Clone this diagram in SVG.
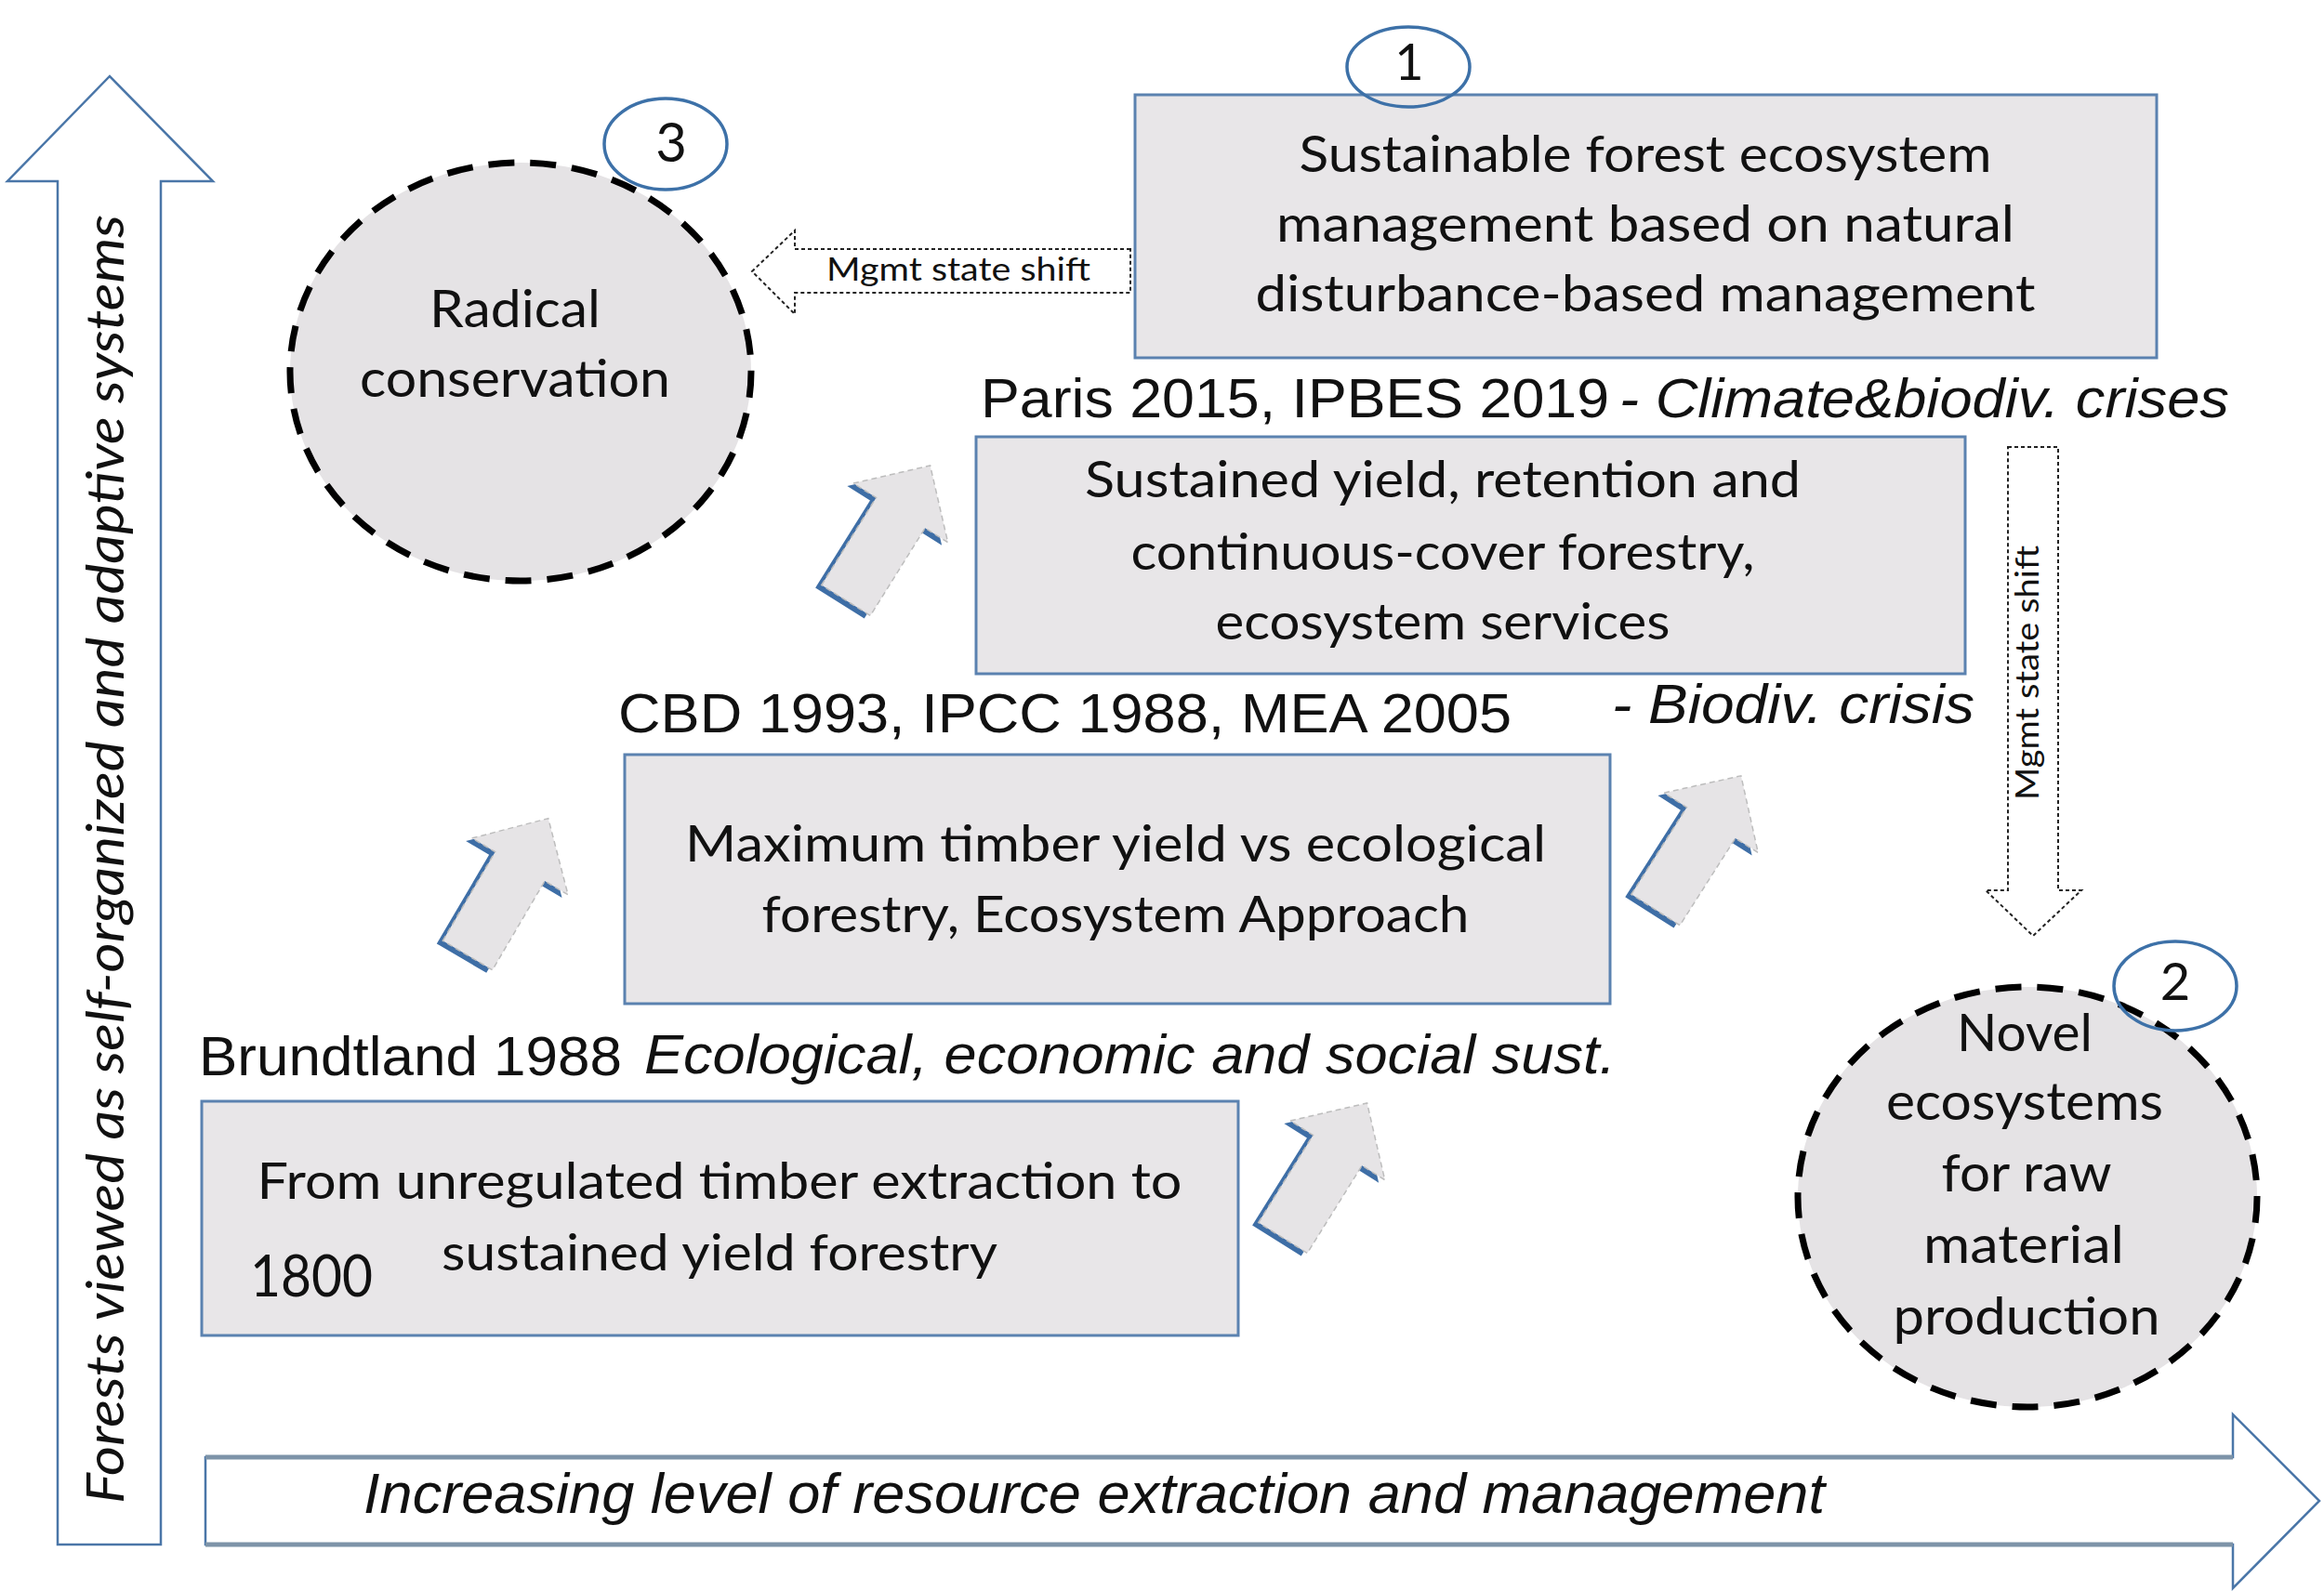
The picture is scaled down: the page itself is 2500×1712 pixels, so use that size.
<svg xmlns="http://www.w3.org/2000/svg" width="2500" height="1712" viewBox="0 0 2500 1712">
<style>
.box{fill:#e8e6e8;stroke:#5b82b0;stroke-width:3}
.circ{fill:#e5e3e5;stroke:#000;stroke-width:7;stroke-dasharray:28 17}
.badge{fill:none;stroke:#3d71a8;stroke-width:3.5}
.cal{font-family:Lato,"Open Sans","DejaVu Sans",sans-serif;fill:#111}
.ari{font-family:"Liberation Sans",Arial,sans-serif;fill:#111}
.it{font-style:italic}
.mid{text-anchor:middle}
.bt{font-size:54px}
.axis{fill:#fff;stroke:#4a76a8;stroke-width:2.5}
.shift{fill:#fff;stroke:#222;stroke-width:2;stroke-dasharray:4 3}
.shadow{fill:#3e6ea6}
.up{fill:#e6e4e6;stroke:#bdbdbd;stroke-width:1.5;stroke-dasharray:6 4}
</style>
<defs>
<path id="uparrow" d="M-31,0 L-31,-111 L-60,-111 L0,-171 L60,-111 L31,-111 L31,0 Z"/>
</defs>
<rect width="2500" height="1712" fill="#fff"/>

<g id="axis-vertical">
<path class="axis" d="M62,1662 L62,195 L8,195 L118,82 L229,195 L173,195 L173,1662 Z"/>
<text class="cal it" font-size="56" transform="translate(133,1618) rotate(-90)" textLength="1387" lengthAdjust="spacingAndGlyphs">Forests viewed as self-organized and adaptive systems</text>
</g>

<g id="axis-horizontal">
<path class="axis" d="M221,1568 L2402,1568 L2402,1522 L2495,1615 L2402,1709 L2402,1662 L221,1662 Z"/>
<line x1="221" y1="1568" x2="2402" y2="1568" stroke="#7d93a8" stroke-width="5"/>
<line x1="221" y1="1662" x2="2402" y2="1662" stroke="#7d93a8" stroke-width="5"/>
<text class="ari it" font-size="62" x="391" y="1628" textLength="1572" lengthAdjust="spacingAndGlyphs">Increasing level of resource extraction and management</text>
</g>

<g id="box-sustainable">
<rect class="box" x="1221" y="102" width="1099" height="283"/>
<text class="cal mid bt" x="1770" y="185" textLength="745" lengthAdjust="spacingAndGlyphs">Sustainable forest ecosystem</text>
<text class="cal mid bt" x="1770" y="260" textLength="794" lengthAdjust="spacingAndGlyphs">management based on natural</text>
<text class="cal mid bt" x="1770" y="335" textLength="839" lengthAdjust="spacingAndGlyphs">disturbance-based management</text>
</g>

<g id="label-paris">
<text class="ari" font-size="60" x="1055" y="449" textLength="676" lengthAdjust="spacingAndGlyphs">Paris 2015, IPBES 2019</text>
<text class="ari it" font-size="60" x="1742" y="449" textLength="656" lengthAdjust="spacingAndGlyphs">- Climate&amp;biodiv. crises</text>
</g>

<g id="box-sustained">
<rect class="box" x="1050" y="470" width="1064" height="255"/>
<text class="cal mid bt" x="1552" y="535" textLength="770" lengthAdjust="spacingAndGlyphs">Sustained yield, retention and</text>
<text class="cal mid bt" x="1552" y="613" textLength="671" lengthAdjust="spacingAndGlyphs">continuous-cover forestry,</text>
<text class="cal mid bt" x="1552" y="688" textLength="489" lengthAdjust="spacingAndGlyphs">ecosystem services</text>
</g>

<g id="label-cbd">
<text class="ari" font-size="60" x="665" y="788" textLength="961" lengthAdjust="spacingAndGlyphs">CBD 1993, IPCC 1988, MEA 2005</text>
<text class="ari it" font-size="60" x="1734" y="778" textLength="390" lengthAdjust="spacingAndGlyphs">- Biodiv. crisis</text>
</g>

<g id="box-maximum">
<rect class="box" x="672" y="812" width="1060" height="268"/>
<text class="cal mid bt" x="1200" y="927" textLength="926" lengthAdjust="spacingAndGlyphs">Maximum timber yield vs ecological</text>
<text class="cal mid bt" x="1200" y="1003" textLength="761" lengthAdjust="spacingAndGlyphs">forestry, Ecosystem Approach</text>
</g>

<g id="label-brundtland">
<text class="ari" font-size="60" x="214" y="1157" textLength="455" lengthAdjust="spacingAndGlyphs">Brundtland 1988</text>
<text class="ari it" font-size="60" x="693" y="1155" textLength="1045" lengthAdjust="spacingAndGlyphs">Ecological, economic and social sust.</text>
</g>

<g id="box-unregulated">
<rect class="box" x="217" y="1185" width="1115" height="252"/>
<text class="cal mid bt" x="774" y="1290" textLength="995" lengthAdjust="spacingAndGlyphs">From unregulated timber extraction to</text>
<text class="cal mid bt" x="774" y="1367" textLength="598" lengthAdjust="spacingAndGlyphs">sustained yield forestry</text>
<text class="cal" font-size="62" x="269" y="1395" textLength="132" lengthAdjust="spacingAndGlyphs">1800</text>
</g>

<g id="circle-radical">
<ellipse class="circ" cx="560" cy="400" rx="248" ry="225"/>
<text class="cal mid" font-size="57" x="554" y="352" textLength="184" lengthAdjust="spacingAndGlyphs">Radical</text>
<text class="cal mid" font-size="57" x="554" y="427" textLength="334" lengthAdjust="spacingAndGlyphs">conservation</text>
</g>

<g id="circle-novel">
<ellipse class="circ" cx="2181" cy="1288" rx="247" ry="226"/>
<text class="cal mid" font-size="57" x="2178" y="1131" textLength="146" lengthAdjust="spacingAndGlyphs">Novel</text>
<text class="cal mid" font-size="57" x="2178" y="1205" textLength="298" lengthAdjust="spacingAndGlyphs">ecosystems</text>
<text class="cal mid" font-size="57" x="2180" y="1282" textLength="183" lengthAdjust="spacingAndGlyphs">for raw</text>
<text class="cal mid" font-size="57" x="2177" y="1359" textLength="216" lengthAdjust="spacingAndGlyphs">material</text>
<text class="cal mid" font-size="57" x="2180" y="1436" textLength="287" lengthAdjust="spacingAndGlyphs">production</text>
</g>

<g id="badge-1">
<ellipse class="badge" cx="1515" cy="72" rx="66" ry="43"/>
<text class="cal mid" font-size="54" x="1516" y="86">1</text>
</g>
<g id="badge-3">
<ellipse class="badge" cx="716" cy="155" rx="66" ry="49"/>
<text class="cal mid" font-size="58" x="722" y="174">3</text>
</g>
<g id="badge-2">
<ellipse class="badge" cx="2340" cy="1061" rx="66" ry="48"/>
<text class="cal mid" font-size="56" x="2340" y="1076">2</text>
</g>

<g id="connectors">
<g transform="translate(503,1028) rotate(30.5)">
<use href="#uparrow" class="shadow" transform="translate(-4,6)"/>
<use href="#uparrow" class="up"/>
</g>
<g transform="translate(1380,1332) rotate(32)">
<use href="#uparrow" class="shadow" transform="translate(-4,6)"/>
<use href="#uparrow" class="up"/>
</g>
<g transform="translate(1781,979) rotate(32.5)">
<use href="#uparrow" class="shadow" transform="translate(-4,6)"/>
<use href="#uparrow" class="up"/>
</g>
<g transform="translate(910,646) rotate(32)">
<use href="#uparrow" class="shadow" transform="translate(-4,6)"/>
<use href="#uparrow" class="up"/>
</g>
<g id="shift-left">
<path class="shift" d="M1216,268 L855,268 L855,248 L809,292 L855,338 L855,315 L1216,315 Z"/>
<text class="cal" font-size="34" x="889" y="302" textLength="284" lengthAdjust="spacingAndGlyphs">Mgmt state shift</text>
</g>
<g id="shift-down">
<path class="shift" d="M2160,481 L2214,481 L2214,958 L2239,958 L2187,1007 L2136,958 L2160,958 Z"/>
<text class="cal" font-size="34" transform="translate(2193,861) rotate(-90)" textLength="274" lengthAdjust="spacingAndGlyphs">Mgmt state shift</text>
</g>
</g>
</svg>
